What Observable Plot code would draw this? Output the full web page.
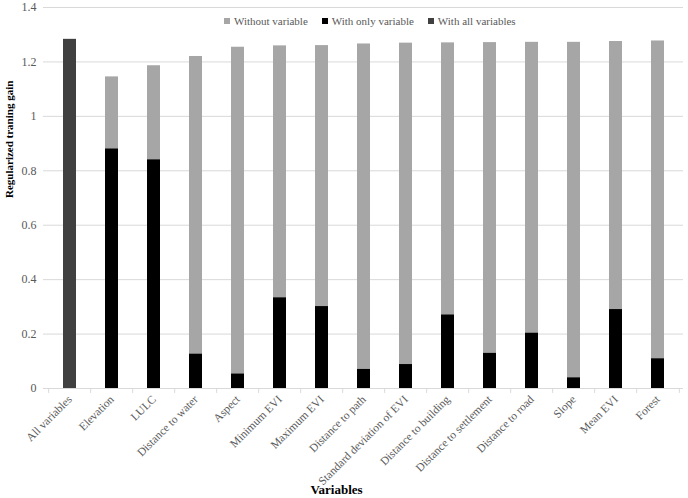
<!DOCTYPE html>
<html>
<head>
<meta charset="utf-8">
<script src="https://cdn.jsdelivr.net/npm/d3@7"></script>
<script src="https://cdn.jsdelivr.net/npm/@observablehq/plot@0.6"></script>
<style>
  html, body { margin: 0; padding: 0; background: #fff; }
  #wrap { position: relative; width: 688px; height: 498px; font-family: "Liberation Serif", serif; }
  #legend { position: absolute; top: 15px; left: 224px; font-size: 11px; color: #595959; display: flex; gap: 14px; white-space: nowrap; font-family: "Liberation Serif", serif; }
  #legend span.sw { display: inline-block; width: 6px; height: 6px; margin-right: 4px; vertical-align: 1px; }
  svg text { font-family: "Liberation Serif", serif !important; }
</style>
</head>
<body>
<div id="wrap">
  <div id="chart"></div>
  <div id="legend"></div>
</div>
<script>
const categories = ["All variables", "Elevation", "LULC", "Distance to water", "Aspect", "Minimum EVI", "Maximum EVI", "Distance to path", "Standard deviation of EVI", "Distance to building", "Distance to settlement", "Distance to road", "Slope", "Mean EVI", "Forest"];
const withoutVariable = [null, 1.145, 1.186, 1.220, 1.254, 1.259, 1.260, 1.266, 1.269, 1.270, 1.271, 1.272, 1.272, 1.275, 1.277];
const withOnlyVariable = [null, 0.880, 0.840, 0.126, 0.053, 0.333, 0.301, 0.070, 0.088, 0.270, 0.129, 0.203, 0.039, 0.290, 0.109];
const withAllVariables = [1.283, null, null, null, null, null, null, null, null, null, null, null, null, null, null];
const seriesNames = ["Without variable", "With only variable", "With all variables"];
const seriesColors = ["#a6a6a6", "#000000", "#404040"];
const yTicks = [0, 0.2, 0.4, 0.6, 0.8, 1, 1.2, 1.4];

const rows = categories.map((c, i) => ({
  cat: c,
  without: withoutVariable[i],
  only: withOnlyVariable[i],
  all: withAllVariables[i]
}));

const FF = "Liberation Serif, serif";
const W = 688, H = 498, mL = 43, mR = 5, mT = 7, mB = 110;
const step = (W - mL - mR) / categories.length;

const plot = Plot.plot({
  width: W,
  height: H,
  marginLeft: mL,
  marginRight: mR,
  marginTop: mT,
  marginBottom: mB,
  style: { fontFamily: FF, fontSize: "11px", color: "#595959", background: "#fff" },
  x: { type: "band", domain: categories, paddingInner: 0.7, paddingOuter: 0.35, label: null },
  y: { domain: [0, 1.4], label: null },
  marks: [
    Plot.gridY(yTicks, { stroke: "#d9d9d9", strokeOpacity: 1 }),
    Plot.barY(rows.filter(d => d.without != null), { x: "cat", y: "without", fill: seriesColors[0] }),
    Plot.barY(rows.filter(d => d.only != null), { x: "cat", y: "only", fill: seriesColors[1] }),
    Plot.barY(rows.filter(d => d.all != null), { x: "cat", y: "all", fill: seriesColors[2] }),
    Plot.ruleY([0], { stroke: "#d9d9d9" }),
    Plot.ruleX(categories, { x: d => d, dx: -step / 2, y1: 0, y2: -0.018, stroke: "#d9d9d9" }),
    Plot.ruleX([categories[categories.length - 1]], { x: d => d, dx: step / 2, y1: 0, y2: -0.018, stroke: "#d9d9d9" }),
    Plot.axisY(yTicks, { tickSize: 0, tickPadding: 7, tickFormat: d3.format("~g"), fill: "#595959", fontSize: 12, fontFamily: FF, label: null }),
    Plot.axisX({ tickSize: 0, tickPadding: 9, tickRotate: -45, fill: "#595959", fontSize: 11.5, fontFamily: FF, label: null }),
    Plot.text(["Regularized traning gain"], { frameAnchor: "left", dx: -34, rotate: -90, fontWeight: "bold", fill: "#000", fontSize: 11, fontFamily: FF }),
    Plot.text(["Variables"], { frameAnchor: "bottom", dy: 105, dx: -27, fontWeight: "bold", fill: "#000", fontSize: 13, fontFamily: FF })
  ]
});
document.getElementById("chart").appendChild(plot);

const legend = document.getElementById("legend");
seriesNames.forEach((n, i) => {
  const item = document.createElement("div");
  const sw = document.createElement("span");
  sw.className = "sw";
  sw.style.background = seriesColors[i];
  item.appendChild(sw);
  item.appendChild(document.createTextNode(n));
  legend.appendChild(item);
});
</script>
</body>
</html>
